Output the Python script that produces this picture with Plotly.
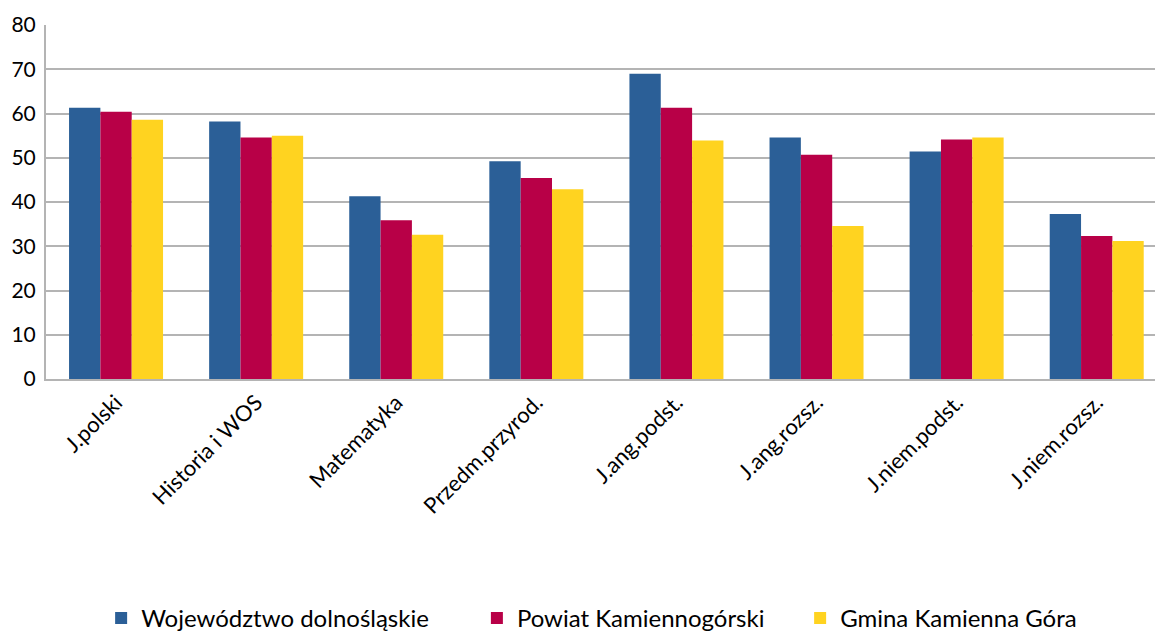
import plotly.graph_objects as go

categories = ["J.polski", "Historia i WOS", "Matematyka", "Przedm.przyrod.",
              "J.ang.podst.", "J.ang.rozsz.", "J.niem.podst.", "J.niem.rozsz."]
woj = [61.3, 58.2, 41.3, 49.2, 69.0, 54.6, 51.4, 37.3]
powiat = [60.4, 54.6, 35.9, 45.4, 61.3, 50.7, 54.1, 32.3]
gmina = [58.6, 55.0, 32.6, 42.9, 53.9, 34.6, 54.6, 31.2]
series_names = ["Województwo dolnośląskie", "Powiat Kamiennogórski", "Gmina Kamienna Góra"]
colors = ["#2B5F97", "#B80047", "#FFD320"]
y_ticks = [0, 10, 20, 30, 40, 50, 60, 70, 80]

FONT = "Lato, 'Open Sans', sans-serif"
fig = go.Figure()
pad = ["\u00a0" * 7, "\u00a0" * 5, ""]
for name, vals, col, p in zip(series_names, [woj, powiat, gmina], colors, pad):
    fig.add_trace(go.Bar(x=categories, y=vals, name=name + p, marker_color=col,
                         marker_line_width=0))

fig.update_layout(
    width=1155, height=632,
    margin=dict(l=46, r=0, t=25, b=253, autoexpand=False),
    plot_bgcolor="white", paper_bgcolor="white",
    barmode="group", bargap=0.329, bargroupgap=0,
    font=dict(family=FONT, color="#000000"),
    legend=dict(orientation="h", x=0.492, xanchor="center", y=-0.676, yanchor="middle",
                font=dict(size=24, family=FONT), traceorder="normal"),
    showlegend=True,
)
fig.update_yaxes(range=[0, 80], tickvals=y_ticks, showgrid=True, gridcolor="#B4B4B4",
                 gridwidth=2, showline=True, linecolor="#B4B4B4", linewidth=2,
                 tickfont=dict(size=21, family=FONT), ticks="", zeroline=False,
                 ticklabelstandoff=4)
fig.update_xaxes(tickangle=-45, tickfont=dict(size=22, family=FONT), showline=True,
                 linecolor="#B4B4B4", linewidth=2, ticks="", range=[-0.5, 7.416])
fig.write_html("out.html", post_script="document.body.style.margin='0';",
               config={"displayModeBar": False})
